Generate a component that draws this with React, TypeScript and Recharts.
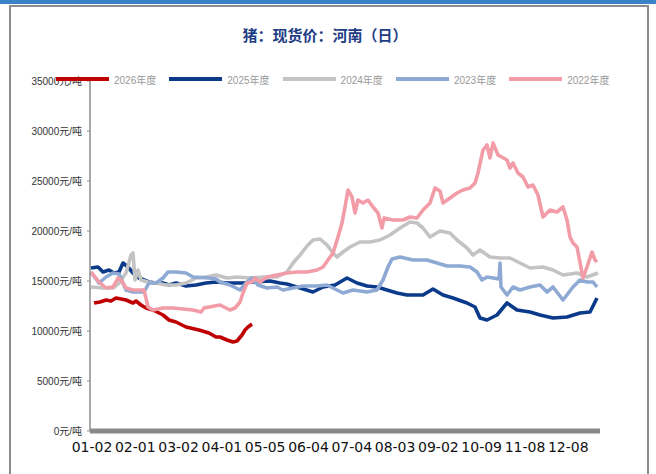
import React from 'react';
import { LineChart, Line, XAxis, YAxis } from 'recharts';

// x = trading-day index (0..255), y = 元/吨
const X_LABELS = ['01-02', '02-01', '03-02', '04-01', '05-05', '06-04', '07-04', '08-03', '09-02', '10-09', '11-08', '12-08'];
const Y_TICKS = [0, 5000, 10000, 15000, 20000, 25000, 30000, 35000];

const S2026: [number, number][] = [
  [2, 12800], [5, 12900], [8, 13100], [10.5, 13000], [13, 13300], [15.5, 13200], [18, 13100],
  [21.5, 12800], [23, 13000], [25.5, 12600], [28, 12300], [31.5, 12100], [36.5, 11600],
  [39.5, 11100], [43, 10900], [48, 10400], [54.5, 10100], [59.5, 9800], [63, 9400], [65, 9400],
  [68.5, 9100], [71.5, 8900], [73.5, 9000], [76, 9600], [77.5, 10100], [79, 10400], [81, 10700],
];

const S2025: [number, number][] = [
  [0.5, 16300], [4, 16400], [6.5, 15900], [9.5, 16100], [12, 15800], [14.5, 15900], [16.5, 16800],
  [19, 16400], [21.5, 15800], [24.5, 15300], [29.5, 14900], [33, 14800], [36.5, 14800],
  [39.5, 14600], [43, 14800], [48, 14500], [53, 14600], [58, 14800], [63, 14900], [68.5, 14800],
  [76.5, 14800], [81.5, 14900], [90, 15000], [95, 14800], [98.5, 14700], [105, 14300],
  [111.5, 13900], [116.5, 14400], [122.5, 14600], [128.5, 15300], [133.5, 14800], [138.5, 14500],
  [143.5, 14400], [148.5, 14100], [153.5, 13800], [158.5, 13600], [166.5, 13600], [171.5, 14200],
  [176.5, 13600], [181.5, 13300], [188.5, 12800], [192.5, 12400], [195, 11300], [198.5, 11100],
  [203.5, 11600], [208.5, 12800], [213.5, 12100], [220, 11900], [225, 11600], [231.5, 11300],
  [238.5, 11400], [245, 11800], [250, 11900], [253.5, 13300],
];

const S2024: [number, number][] = [
  [0.5, 14400], [6.5, 14300], [11.5, 14300], [14.5, 14800], [18, 15800], [20.5, 17600],
  [21.5, 17800], [22.5, 15100], [24, 16100], [25.5, 15100], [29, 14900], [33, 14800], [38, 14600],
  [43, 14600], [48, 14800], [53, 15300], [58, 15400], [63, 15600], [68.5, 15300], [73.5, 15400],
  [80, 15300], [86.5, 15400], [93.5, 15400], [98.5, 15900], [101.5, 16800], [105, 17600],
  [108.5, 18500], [111.5, 19100], [115, 19200], [118.5, 18600], [121.5, 17800], [123.5, 17400],
  [126.5, 17900], [130, 18400], [135, 18900], [140, 18900], [145, 19100], [150, 19600],
  [155, 20300], [160, 20900], [163.5, 20800], [166.5, 20300], [170, 19400], [175, 20000],
  [180, 19800], [183.5, 19100], [188.5, 18300], [191.5, 17600], [195, 18100], [200, 17400],
  [205, 17300], [210, 17300], [215, 16800], [220, 16300], [226.5, 16400], [231.5, 16100],
  [236.5, 15600], [243.5, 15800], [248.5, 15400], [254, 15800],
];

const S2023: [number, number][] = [
  [0.5, 15900], [4.5, 14800], [8, 15400], [11.5, 15800], [14.5, 15700], [18, 14100], [21.5, 13900],
  [27, 13900], [29.5, 14800], [33, 14800], [36.5, 15300], [39, 15900], [43, 15900], [48, 15800],
  [51.5, 15400], [59.5, 15300], [63, 15200], [65, 14900], [70, 14600], [75, 14100], [78.5, 14900],
  [81, 15300], [84, 14600], [88.5, 14300], [93.5, 14400], [96.5, 14100], [101.5, 14300],
  [106.5, 14500], [113.5, 14500], [118.5, 14600], [121.5, 14300], [126.5, 13800], [131.5, 14100],
  [138.5, 13900], [143.5, 14100], [146.5, 15100], [149, 16400], [151, 17200], [155, 17400],
  [161.5, 17100], [168.5, 17100], [173.5, 16800], [178.5, 16500], [185, 16500], [190, 16400],
  [193.5, 15900], [196, 15100], [198.5, 15400], [201.5, 15300], [204.5, 15200], [205, 16800],
  [205.5, 14400], [208.5, 13600], [211.5, 14400], [215, 14100], [220, 14400], [225, 14600],
  [228.5, 13900], [231.5, 14400], [236.5, 13100], [241.5, 14400], [245, 15100], [248.5, 14900],
  [251.5, 14900], [253.5, 14400],
];

const S2022: [number, number][] = [
  [0.5, 15900], [4.5, 14900], [8, 14300], [11.5, 14400], [14, 15300], [15.5, 15100], [18, 14300],
  [21.5, 14100], [27, 14100], [29, 12400], [31.5, 12100], [36.5, 12300], [41.5, 12300],
  [46.5, 12200], [51.5, 12100], [55.5, 11900], [57, 12300], [59.5, 12400], [65, 12600],
  [70, 12100], [72.5, 12300], [75, 12900], [76.5, 13800], [78.5, 14800], [81, 14900],
  [82.5, 15300], [85, 14900], [88.5, 15400], [93.5, 15600], [98.5, 15800], [103.5, 15900],
  [108.5, 15900], [113.5, 16100], [116.5, 16400], [119, 17100], [121.5, 17800], [124, 19400],
  [126, 20800], [127.5, 22400], [129, 24100], [131, 23400], [132.5, 21800], [134, 23100],
  [136.5, 22800], [139, 23100], [141.5, 22400], [144, 21800], [146, 20300], [147, 21300],
  [151.5, 21100], [156.5, 21100], [160, 21400], [163.5, 21300], [166.5, 22100], [170, 22800],
  [172.5, 24300], [175, 24000], [176.5, 22800], [180, 23300], [183.5, 23800], [186.5, 24100],
  [190, 24300], [192.5, 24800], [194, 25800], [196.5, 28100], [198.5, 28600], [200, 27300],
  [201.5, 28800], [204, 27600], [208.5, 27100], [210, 26300], [211.5, 26800], [214, 25800],
  [216.5, 25400], [219, 24400], [221.5, 24600], [224, 23600], [226.5, 21400], [230, 22100],
  [233.5, 21900], [236.5, 22400], [238.5, 21100], [240, 19400], [241.5, 18800], [243.5, 18400],
  [246.5, 15300], [248.5, 16400], [251, 17900], [252.5, 17100], [253.5, 16900],
];

const TICK_STEP = 21.65;
const X_TICKS = X_LABELS.map((_, i) => 1 + i * TICK_STEP);

const SERIES = [
  { name: '2026年度', pts: S2026, color: '#c00000' },
  { name: '2025年度', pts: S2025, color: '#0b3a8a' },
  { name: '2024年度', pts: S2024, color: '#c3c3c3' },
  { name: '2023年度', pts: S2023, color: '#8eaad4' },
  { name: '2022年度', pts: S2022, color: '#f29ca7' },
];

const toRows = (pts: [number, number][]) => pts.map(([x, v]) => ({ x, v }));

const FONT = '"Liberation Sans", Arial, "Noto Sans CJK SC", sans-serif';

export default function App() {
  return (
    <div style={{ position: 'absolute', left: 0, top: 0, width: 656, height: 474, background: '#fff', overflow: 'hidden', fontFamily: FONT }}>
      <div style={{ position: 'absolute', left: 0, top: 0, width: 656, height: 4, background: '#3b82c8' }} />
      <div style={{ position: 'absolute', left: 9, top: 5, width: 636, height: 520, border: '2px solid #8c8c8c' }} />
      <div style={{
        position: 'absolute', left: 0, top: 24, width: 650, textAlign: 'center',
        fontFamily: '"Noto Sans CJK SC", sans-serif', fontWeight: 700, fontSize: 15, color: '#1e3d85',
      }}>
        猪：现货价：河南（日）
      </div>

      <div style={{ position: 'absolute', left: 0, top: 0 }}>
        <LineChart width={656} height={474} margin={{ top: 81, right: 56, left: 0, bottom: 13 }}>
          <XAxis
            dataKey="x"
            type="number"
            domain={[0, 255]}
            ticks={X_TICKS}
            interval={0}
            tickFormatter={(v: number) => X_LABELS[Math.round((v - 1) / TICK_STEP)] ?? ''}
            axisLine={{ stroke: '#898989', strokeWidth: 5 }}
            tickLine={false}
            tickSize={0}
            tickMargin={11}
            height={30}
            tick={{ fontSize: 14, fill: '#111', fontFamily: '"DejaVu Sans", sans-serif' }}
          />
          <YAxis
            type="number"
            domain={[0, 35000]}
            ticks={Y_TICKS}
            interval={0}
            tickFormatter={(v: number) => `${v}元/吨`}
            axisLine={{ stroke: '#8c8c8c', strokeWidth: 1.5 }}
            tickLine={{ stroke: '#8c8c8c' }}
            tickSize={3}
            tickMargin={5}
            width={90}
            tick={{ fontSize: 10, fill: '#333', fontFamily: FONT }}
          />
          {SERIES.map((s) => (
            <Line
              key={s.name}
              data={toRows(s.pts)}
              dataKey="v"
              name={s.name}
              stroke={s.color}
              strokeWidth={3.6}
              dot={false}
              activeDot={false}
              strokeLinejoin="round"
              isAnimationActive={false}
            />
          ))}
        </LineChart>
      </div>

      {/* legend sits on top of the 35000 label, as in the source */}
      <div style={{ position: 'absolute', left: 56, top: 72, display: 'flex' }}>
        {SERIES.map((s) => (
          <div key={s.name} style={{ width: 113.3, display: 'flex', alignItems: 'center', height: 14 }}>
            <div style={{ width: 53, height: 3.4, background: s.color }} />
            <span style={{ marginLeft: 5, fontSize: 10, color: '#999', whiteSpace: 'nowrap' }}>{s.name}</span>
          </div>
        ))}
      </div>
    </div>
  );
}
